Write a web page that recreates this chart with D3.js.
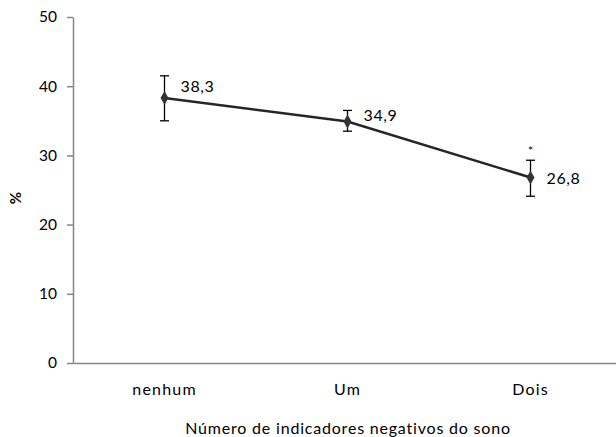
<!DOCTYPE html>
<html>
<head>
<meta charset="utf-8">
<script src="https://cdn.jsdelivr.net/npm/d3@7"></script>
<style>
  body { margin: 0; background: #fff; }
  text { font-family: Lato, "Open Sans", sans-serif; fill: #000; }
</style>
</head>
<body>
<svg id="chart" width="616" height="437"></svg>
<script>
const categories = ["nenhum", "Um", "Dois"];
const values = [38.3, 34.9, 26.8];
const errLow = [35.0, 33.5, 24.1];
const errHigh = [41.5, 36.5, 29.3];
const valueLabels = ["38,3", "34,9", "26,8"];
const marks = ["", "", "*"];
const yTicks = [0, 10, 20, 30, 40, 50];

const svg = d3.select("#chart");

const x = d3.scaleBand().domain(categories).range([73, 622]);
const y = d3.scaleLinear().domain([0, 50]).range([363, 17]);

// y axis
const yAxis = svg.append("g")
  .attr("transform", "translate(73,0)")
  .call(d3.axisLeft(y).tickValues(yTicks).tickSize(6).tickSizeOuter(0).tickPadding(10));
yAxis.select(".domain").attr("stroke", "#868686").attr("stroke-width", 1.5);
yAxis.selectAll(".tick line").attr("stroke", "#868686").attr("stroke-width", 1.5);
yAxis.selectAll("text").style("font-size", "15.5px").attr("fill", "#000");

// x axis
const xAxis = svg.append("g")
  .attr("transform", "translate(0,363)")
  .call(d3.axisBottom(x).tickSize(0).tickPadding(21));
xAxis.select(".domain").attr("stroke", "#868686").attr("stroke-width", 1.5);
xAxis.selectAll("text").style("font-size", "16px").style("letter-spacing", "1.2px").attr("fill", "#000");

const cx = d => x(d) + x.bandwidth() / 2;

// line
svg.append("path")
  .datum(categories)
  .attr("fill", "none")
  .attr("stroke", "#262626")
  .attr("stroke-width", 2.5)
  .attr("d", d3.line().x(cx).y((d, i) => y(values[i])));

// error bars
const eb = svg.selectAll(".err").data(categories).enter().append("g").attr("class", "err");
eb.append("line")
  .attr("x1", cx).attr("x2", cx)
  .attr("y1", (d, i) => y(errLow[i])).attr("y2", (d, i) => y(errHigh[i]))
  .attr("stroke", "#000").attr("stroke-width", 1.3);
eb.append("line")
  .attr("x1", d => cx(d) - 4.5).attr("x2", d => cx(d) + 4.5)
  .attr("y1", (d, i) => y(errLow[i])).attr("y2", (d, i) => y(errLow[i]))
  .attr("stroke", "#000").attr("stroke-width", 1.3);
eb.append("line")
  .attr("x1", d => cx(d) - 4.5).attr("x2", d => cx(d) + 4.5)
  .attr("y1", (d, i) => y(errHigh[i])).attr("y2", (d, i) => y(errHigh[i]))
  .attr("stroke", "#000").attr("stroke-width", 1.3);

// markers
svg.selectAll(".pt").data(categories).enter().append("path")
  .attr("class", "pt")
  .attr("transform", (d, i) => `translate(${cx(d)},${y(values[i])})`)
  .attr("d", d3.symbol(d3.symbolDiamond, 55))
  .attr("fill", "#333");

// value labels (excel-like placement around the point)
const labelShift = [-6, 0, 6];
svg.selectAll(".vl").data(categories).enter().append("text")
  .attr("class", "vl")
  .attr("x", d => cx(d) + 16)
  .attr("y", (d, i) => y(values[i]) + labelShift[i])
  .style("font-size", "16px")
  .style("letter-spacing", "0.6px")
  .text((d, i) => valueLabels[i]);

// significance marks
svg.selectAll(".mk").data(categories).enter().append("text")
  .attr("class", "mk")
  .attr("x", cx)
  .attr("y", (d, i) => y(errHigh[i]) - 5)
  .attr("text-anchor", "middle")
  .style("font-size", "12px")
  .text((d, i) => marks[i]);

// axis titles
svg.append("text")
  .attr("transform", "translate(21,198) rotate(-90)")
  .attr("text-anchor", "middle")
  .style("font-size", "15px")
  .style("font-weight", "bold")
  .text("%");

svg.append("text")
  .attr("x", 348).attr("y", 434)
  .attr("text-anchor", "middle")
  .style("font-size", "16px")
  .style("letter-spacing", "0.8px")
  .text("Número de indicadores negativos do sono");
</script>
</body>
</html>
